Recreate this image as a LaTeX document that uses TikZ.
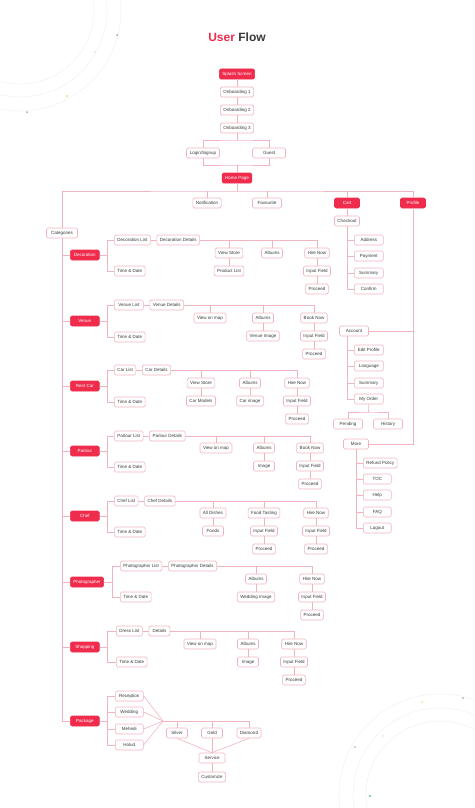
\documentclass[tikz,border=0pt]{standalone}
\usepackage{fontspec}
\setmainfont{Liberation Sans}
\usepackage{tikz}
\usetikzlibrary{positioning,calc}
\definecolor{flowred}{HTML}{EF2C4C}
\definecolor{flowpink}{HTML}{F0B4C0}
\definecolor{flowtext}{HTML}{3A3A3A}
\tikzset{
    screen/.style={draw=flowpink, fill=white, rounded corners=1.5pt, line width=0.6pt,
        font=\fontsize{4.5}{5}\selectfont, text=flowtext, minimum height=10pt,
        minimum width=21pt, inner xsep=3pt, inner ysep=1pt, text height=3.3pt, text depth=1pt},
    keyscreen/.style={screen, draw=flowred, fill=flowred, text=white, minimum width=25pt},
    catscreen/.style={keyscreen, minimum width=29pt, anchor=west},
    leftscreen/.style={screen, anchor=west},
    listscreen/.style={leftscreen, minimum width=29pt},
    link/.style={draw=flowpink, line width=0.6pt},
    ring/.style={draw=black!6, line width=0.5pt}
}

\begin{document}
\begin{tikzpicture}[x=1pt, y=-1pt]
                        \useasboundingbox (0,0) rectangle (474,808);
                        \foreach \r in {74,87,101}
                        {
                            \draw [ring] (20,10) circle (\r pt);
                            \draw [ring] (440,795) circle (\r pt);
                        }
                        \fill [black!35] (117,35) circle (1pt);
                        \fill [black!30] (95,52) circle (0.6pt);
                        \fill [yellow!60!green!60] (67,96) circle (1pt);
                        \fill [black!35] (27,112) circle (1pt);
                        \fill [black!35] (463,698) circle (1pt);
                        \fill [yellow!60!green!60] (422,702) circle (0.8pt);
                        \fill [black!35] (355,747) circle (0.8pt);
                        \fill [black!25] (383,736) circle (0.6pt);
                        \fill [teal!60] (370,796) circle (1.2pt);

                        \node (title) at (237,37) {\fontsize{12}{14}\selectfont\bfseries\textcolor{flowred}{User} \textcolor{flowtext}{Flow}};

                        \node [keyscreen] (splash) at (237,74) {Splash Screen};
                        \node [screen] (onb1) at (237,92) {Onboarding 1};
                        \node [screen] (onb2) at (237,110) {Onboarding 2};
                        \node [screen] (onb3) at (237,128) {Onboarding 3};
                        \node [screen, minimum width=33pt] (login) at (203,153) {Login/Signup};
                        \node [screen, minimum width=33pt] (guest) at (269,153) {Guest};
                        \node [keyscreen] (home) at (237,178) {Home Page};
                        \coordinate (split) at (237,140);
                        \coordinate (merge) at (237,165);
                        \coordinate (bus) at (237,191);
                        \draw [link] (splash) -- (onb1);
                        \draw [link] (onb1) -- (onb2);
                        \draw [link] (onb2) -- (onb3);
                        \draw [link] (onb3) -- (split);
                        \draw [link] (login) |- (split) -| (guest);
                        \draw [link] (login.south) |- (merge) -| (guest.south);
                        \draw [link] (merge) -- (home);
                        \draw [link] (home) -- (bus);

                        \node [screen] (notif) at (207,203) {Notification};
                        \node [screen, minimum width=29pt] (fav) at (267,203) {Favourite};
                        \node [keyscreen] (cart) at (347,203) {Cart};
                        \node [keyscreen] (profile) at (413,203) {Profile};
                        \node [screen, minimum width=31pt] (cat) at (62,233) {Categories};
                        \draw [link] (cat) |- (bus) -| (profile);
                        \draw [link] (notif) -- (notif |- bus);
                        \draw [link] (fav) -- (fav |- bus);
                        \draw [link] (cart) -- (cart |- bus);

                        \node [screen] (checkout) at (347,221) {Checkout};
                        \node [listscreen] (address) at (354,240) {Address};
                        \node [listscreen] (payment) at (354,256) {Payment};
                        \node [listscreen] (cartsum) at (354,273) {Summary};
                        \node [listscreen] (confirm) at (354,289) {Confirm};
                        \draw [link] (cart) -- (checkout);
                        \draw [link] (checkout) |- (confirm);
                        \foreach \n in {address,payment,cartsum}
                            \draw [link] (\n) -- (\n -| checkout);

                        \node [screen, minimum width=29pt] (account) at (354,331) {Account};
                        \node [listscreen] (editprof) at (354,350) {Edit Profile};
                        \node [listscreen] (language) at (354,366) {Language};
                        \node [listscreen] (acctsum) at (354,383) {Summary};
                        \node [listscreen] (myorder) at (354,399) {My Order};
                        \node [screen, minimum width=29pt] (pending) at (348,424) {Pending};
                        \node [screen, minimum width=29pt] (history) at (388,424) {History};
                        \coordinate (ordsplit) at (368.5,412);
                        \draw [link] (account) -- (account -| profile);
                        \draw [link] (account.south -| cart) |- (myorder);
                        \foreach \n in {editprof,language,acctsum}
                            \draw [link] (\n) -- (\n -| cart);
                        \draw [link] (myorder) -- (ordsplit);
                        \draw [link] (pending) |- (ordsplit) -| (history);

                        \node [screen, minimum width=25pt] (more) at (356,444) {More};
                        \node [leftscreen, minimum width=28pt] (refund) at (363,463) {Refund Policy};
                        \node [leftscreen, minimum width=28pt] (toc) at (363,479) {TOC};
                        \node [leftscreen, minimum width=28pt] (help) at (363,495) {Help};
                        \node [leftscreen, minimum width=28pt] (faq) at (363,512) {FAQ};
                        \node [leftscreen, minimum width=28pt] (logout) at (363,528) {Logout};
                        \draw [link] (profile) |- (more);
                        \draw [link] (more) |- (logout);
                        \foreach \n in {refund,toc,help,faq}
                            \draw [link] (\n) -- (\n -| more);

                        \node [catscreen] (deco) at (70,255) {Decoration};
                        \node [leftscreen] (decolist) at (114,240) {Decoration List};
                        \node [screen, right=6pt of decolist] (decodet) {Decoration Details};
                        \node [leftscreen] (decotime) at (114,271) {Time \& Date};
                        \node [screen] (decostore) at (229,253) {View Store};
                        \node [screen] (decoprod) at (229,271) {Product List};
                        \node [screen] (decoalb) at (272,253) {Albums};
                        \node [screen] (decohire) at (317,253) {Hire Now};
                        \node [screen] (decoinput) at (317,271) {Input Field};
                        \node [screen] (decoproc) at (317,289) {Proceed};
                        \draw [link] (deco) -- (deco -| cat);
                        \draw [link] (deco.east) -- ++(8,0) coordinate (decob);
                        \draw [link] (decolist) -| (decob) |- (decotime);
                        \draw [link] (decolist) -- (decodet);
                        \draw [link] (decodet) -| (decohire);
                        \draw [link] (decostore) -- (decostore |- decodet);
                        \draw [link] (decoalb) -- (decoalb |- decodet);
                        \draw [link] (decostore) -- (decoprod);
                        \draw [link] (decohire) -- (decoinput);
                        \draw [link] (decoinput) -- (decoproc);

                        \node [catscreen] (venue) at (70,321) {Venue};
                        \node [listscreen] (venlist) at (114,305) {Venue List};
                        \node [screen, right=6pt of venlist] (vendet) {Venue Details};
                        \node [leftscreen] (ventime) at (114,337) {Time \& Date};
                        \node [screen] (venmap) at (210,318) {View on map};
                        \node [screen] (venalb) at (263,318) {Albums};
                        \node [screen] (venimg) at (263,336) {Venue Image};
                        \node [screen] (venbook) at (314,318) {Book Now};
                        \node [screen] (veninput) at (314,336) {Input Field};
                        \node [screen] (venproc) at (314,354) {Proceed};
                        \draw [link] (venue) -- (venue -| cat);
                        \draw [link] (venue.east) -- ++(8,0) coordinate (venb);
                        \draw [link] (venlist) -| (venb) |- (ventime);
                        \draw [link] (venlist) -- (vendet);
                        \draw [link] (vendet) -| (venbook);
                        \draw [link] (venmap) -- (venmap |- vendet);
                        \draw [link] (venalb) -- (venalb |- vendet);
                        \draw [link] (venalb) -- (venimg);
                        \draw [link] (venbook) -- (veninput);
                        \draw [link] (veninput) -- (venproc);

                        \node [catscreen] (rent) at (70,386) {Rent Car};
                        \node [leftscreen] (carlist) at (114,370) {Car List};
                        \node [screen, right=6pt of carlist] (cardet) {Car Details};
                        \node [leftscreen] (cartime) at (114,402) {Time \& Date};
                        \node [screen] (carstore) at (201,383) {View Store};
                        \node [screen] (carmod) at (201,401) {Car Models};
                        \node [screen] (caralb) at (250,383) {Albums};
                        \node [screen] (carimg) at (250,401) {Car image};
                        \node [screen] (carhire) at (297,383) {Hire Now};
                        \node [screen] (carinput) at (297,401) {Input Field};
                        \node [screen] (carproc) at (297,419) {Proceed};
                        \draw [link] (rent) -- (rent -| cat);
                        \draw [link] (rent.east) -- ++(8,0) coordinate (rentb);
                        \draw [link] (carlist) -| (rentb) |- (cartime);
                        \draw [link] (carlist) -- (cardet);
                        \draw [link] (cardet) -| (carhire);
                        \draw [link] (carstore) -- (carstore |- cardet);
                        \draw [link] (caralb) -- (caralb |- cardet);
                        \draw [link] (carstore) -- (carmod);
                        \draw [link] (caralb) -- (carimg);
                        \draw [link] (carhire) -- (carinput);
                        \draw [link] (carinput) -- (carproc);

                        \node [catscreen] (parlour) at (70,451) {Parlour};
                        \node [leftscreen] (parlist) at (114,436) {Parlour List};
                        \node [screen, right=6pt of parlist] (pardet) {Parlour Details};
                        \node [leftscreen] (partime) at (114,467) {Time \& Date};
                        \node [screen] (parmap) at (216,448) {View on map};
                        \node [screen] (paralb) at (264,448) {Albums};
                        \node [screen] (parimg) at (264,466) {Image};
                        \node [screen] (parbook) at (310,448) {Book Now};
                        \node [screen] (parinput) at (310,466) {Input Field};
                        \node [screen] (parproc) at (310,484) {Proceed};
                        \draw [link] (parlour) -- (parlour -| cat);
                        \draw [link] (parlour.east) -- ++(8,0) coordinate (parb);
                        \draw [link] (parlist) -| (parb) |- (partime);
                        \draw [link] (parlist) -- (pardet);
                        \draw [link] (pardet) -| (parbook);
                        \draw [link] (parmap) -- (parmap |- pardet);
                        \draw [link] (paralb) -- (paralb |- pardet);
                        \draw [link] (paralb) -- (parimg);
                        \draw [link] (parbook) -- (parinput);
                        \draw [link] (parinput) -- (parproc);

                        \node [catscreen] (chef) at (70,516) {Chef};
                        \node [leftscreen] (cheflist) at (114,501) {Chef List};
                        \node [screen, right=6pt of cheflist] (chefdet) {Chef Details};
                        \node [leftscreen] (cheftime) at (114,532) {Time \& Date};
                        \node [screen] (chefdish) at (213,513) {All Dishes};
                        \node [screen] (cheffood) at (213,531) {Foods};
                        \node [screen] (cheftaste) at (264,513) {Food Tasting};
                        \node [screen] (tasteinput) at (264,531) {Input Field};
                        \node [screen] (tasteproc) at (264,549) {Proceed};
                        \node [screen] (chefhire) at (316,513) {Hire Now};
                        \node [screen] (chefinput) at (316,531) {Input Field};
                        \node [screen] (chefproc) at (316,549) {Proceed};
                        \draw [link] (chef) -- (chef -| cat);
                        \draw [link] (chef.east) -- ++(8,0) coordinate (chefb);
                        \draw [link] (cheflist) -| (chefb) |- (cheftime);
                        \draw [link] (cheflist) -- (chefdet);
                        \draw [link] (chefdet) -| (chefhire);
                        \draw [link] (chefdish) -- (chefdish |- chefdet);
                        \draw [link] (cheftaste) -- (cheftaste |- chefdet);
                        \draw [link] (chefdish) -- (cheffood);
                        \draw [link] (cheftaste) -- (tasteinput);
                        \draw [link] (tasteinput) -- (tasteproc);
                        \draw [link] (chefhire) -- (chefinput);
                        \draw [link] (chefinput) -- (chefproc);

                        \node [catscreen] (photo) at (70,582) {Photographer};
                        \node [leftscreen] (photolist) at (120,566) {Photographer List};
                        \node [screen, right=6pt of photolist] (photodet) {Photographer Details};
                        \node [leftscreen] (phototime) at (120,597) {Time \& Date};
                        \node [screen] (photoalb) at (256,579) {Albums};
                        \node [screen] (photoimg) at (256,597) {Wedding Image};
                        \node [screen] (photohire) at (312,579) {Hire Now};
                        \node [screen] (photoinput) at (312,597) {Input Field};
                        \node [screen] (photoproc) at (312,615) {Proceed};
                        \draw [link] (photo) -- (photo -| cat);
                        \draw [link] (photo.east) -- ++(8,0) coordinate (photob);
                        \draw [link] (photolist) -| (photob) |- (phototime);
                        \draw [link] (photolist) -- (photodet);
                        \draw [link] (photodet) -| (photohire);
                        \draw [link] (photoalb) -- (photoalb |- photodet);
                        \draw [link] (photoalb) -- (photoimg);
                        \draw [link] (photohire) -- (photoinput);
                        \draw [link] (photoinput) -- (photoproc);

                        \node [catscreen] (shop) at (70,647) {Shopping};
                        \node [leftscreen] (dresslist) at (116,631) {Dress List};
                        \node [screen, right=6pt of dresslist] (shopdet) {Details};
                        \node [leftscreen] (shoptime) at (116,662) {Time \& Date};
                        \node [screen] (shopmap) at (200,644) {View on map};
                        \node [screen] (shopalb) at (248,644) {Albums};
                        \node [screen] (shopimg) at (248,662) {Image};
                        \node [screen] (shophire) at (294,644) {Hire Now};
                        \node [screen] (shopinput) at (294,662) {Input Field};
                        \node [screen] (shopproc) at (294,680) {Proceed};
                        \draw [link] (shop) -- (shop -| cat);
                        \draw [link] (shop.east) -- ++(8,0) coordinate (shopb);
                        \draw [link] (dresslist) -| (shopb) |- (shoptime);
                        \draw [link] (dresslist) -- (shopdet);
                        \draw [link] (shopdet) -| (shophire);
                        \draw [link] (shopmap) -- (shopmap |- shopdet);
                        \draw [link] (shopalb) -- (shopalb |- shopdet);
                        \draw [link] (shopalb) -- (shopimg);
                        \draw [link] (shophire) -- (shopinput);
                        \draw [link] (shopinput) -- (shopproc);

                        \node [catscreen] (pack) at (70,721) {Package};
                        \node [leftscreen, minimum width=28pt] (recep) at (115,696) {Reception};
                        \node [leftscreen, minimum width=28pt] (wedding) at (115,712) {Wedding};
                        \node [leftscreen, minimum width=28pt] (mehedi) at (115,729) {Mehedi};
                        \node [leftscreen, minimum width=28pt] (holud) at (115,745) {Holud};
                        \coordinate (packjoin) at (163,721);
                        \node [screen] (silver) at (177,733) {Silver};
                        \node [screen] (gold) at (212,733) {Gold};
                        \node [screen] (diamond) at (249,733) {Diamond};
                        \node [screen, minimum width=26pt] (service) at (212,758) {Service};
                        \node [screen] (customize) at (212,777) {Customize};
                        \draw [link] (cat) |- (pack);
                        \draw [link] (pack.east) -- ++(8,0) coordinate (packb);
                        \draw [link] (recep) -| (packb) |- (holud);
                        \draw [link] (wedding) -- (wedding -| packb);
                        \draw [link] (mehedi) -- (mehedi -| packb);
                        \foreach \n in {recep,wedding,mehedi,holud}
                            \draw [link] (\n.east) -- (packjoin);
                        \draw [link] (packjoin) -| (diamond);
                        \draw [link] (silver) -- (silver |- packjoin);
                        \draw [link] (gold) -- (gold |- packjoin);
                        \draw [link] (silver.south) -- (service.north);
                        \draw [link] (gold) -- (service);
                        \draw [link] (diamond.south) -- (service.north);
                        \draw [link] (service) -- (customize);
                    \end{tikzpicture}
\end{document}
